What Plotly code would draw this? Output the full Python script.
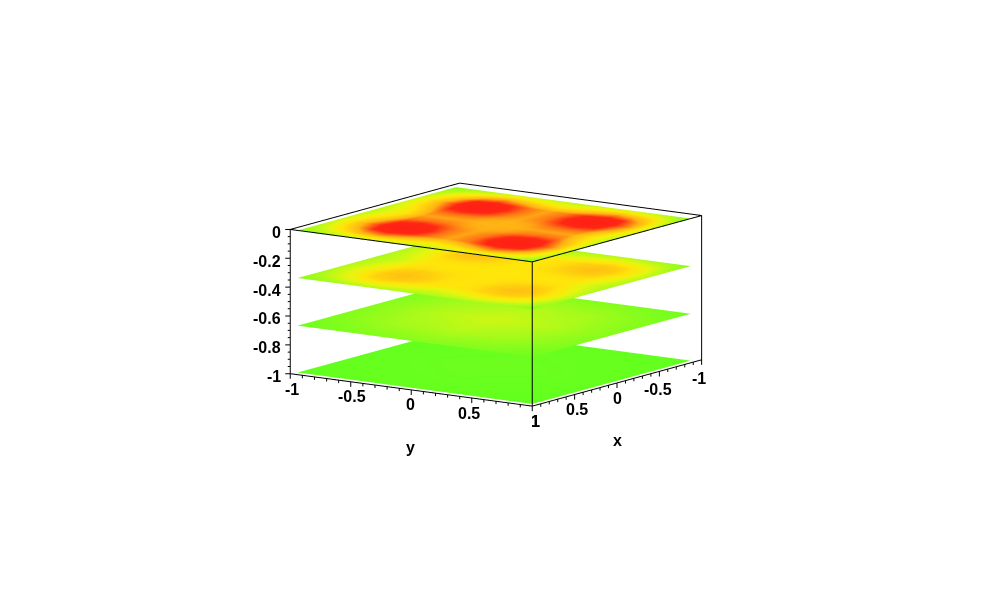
import plotly.graph_objects as go
import numpy as np

# grid positions of the four sheets
x_grid = [-0.87, -0.68, -0.53, -0.38, -0.23, -0.08, 0.07, 0.22, 0.37, 0.52, 0.67, 0.83, 1.0]
y_grid = [-0.94, -0.69, -0.54, -0.39, -0.24, -0.08, 0.07, 0.23, 0.38, 0.53, 0.68, 0.84, 1.0]
x_coarse = [-0.87, -0.4, 0.07, 0.53, 1.0]
y_coarse = [-0.94, -0.45, 0.03, 0.52, 1.0]

levels = [0.0, -0.33, -0.66, -0.985]

# colour values read from each sheet (0 green .. 0.5 yellow .. 1 red)
sheet_1 = [
    [.15, .24, .28, .32, .32, .30, .28, .30, .32, .32, .28, .24, .15],
    [.24, .50, .66, .74, .66, .56, .50, .56, .66, .74, .66, .50, .24],
    [.28, .66, .90, .96, .90, .78, .72, .78, .90, .96, .90, .66, .28],
    [.32, .74, .96, 1.0, .96, .80, .72, .80, .96, 1.0, .96, .74, .32],
    [.32, .66, .90, .96, .90, .78, .72, .78, .90, .96, .90, .66, .32],
    [.30, .56, .78, .80, .78, .72, .70, .72, .78, .80, .78, .56, .30],
    [.28, .50, .72, .72, .72, .70, .70, .70, .72, .72, .72, .50, .28],
    [.30, .56, .78, .80, .78, .72, .70, .72, .78, .80, .78, .56, .30],
    [.32, .66, .90, .96, .90, .78, .72, .78, .90, .96, .90, .66, .32],
    [.32, .74, .96, 1.0, .96, .80, .72, .80, .96, 1.0, .96, .74, .32],
    [.28, .66, .90, .96, .90, .78, .72, .78, .90, .96, .90, .66, .28],
    [.24, .50, .66, .74, .66, .56, .50, .56, .66, .74, .66, .50, .24],
    [.15, .24, .28, .32, .32, .30, .28, .30, .32, .32, .28, .24, .15],
]
sheet_2 = [
    [.12, .20, .24, .26, .26, .25, .24, .25, .26, .26, .24, .20, .12],
    [.20, .36, .44, .48, .44, .40, .36, .40, .44, .48, .44, .36, .20],
    [.24, .44, .58, .62, .58, .52, .50, .52, .58, .62, .58, .44, .24],
    [.26, .48, .62, .66, .62, .53, .50, .53, .62, .66, .62, .48, .26],
    [.26, .44, .58, .62, .58, .52, .50, .52, .58, .62, .58, .44, .26],
    [.25, .40, .52, .53, .52, .51, .50, .51, .52, .53, .52, .40, .25],
    [.24, .36, .50, .50, .50, .50, .50, .50, .50, .50, .50, .36, .24],
    [.25, .40, .52, .53, .52, .51, .50, .51, .52, .53, .52, .40, .25],
    [.26, .44, .58, .62, .58, .52, .50, .52, .58, .62, .58, .44, .26],
    [.26, .48, .62, .66, .62, .53, .50, .53, .62, .66, .62, .48, .26],
    [.24, .44, .58, .62, .58, .52, .50, .52, .58, .62, .58, .44, .24],
    [.20, .36, .44, .48, .44, .40, .36, .40, .44, .48, .44, .36, .20],
    [.12, .20, .24, .26, .26, .25, .24, .25, .26, .26, .24, .20, .12],
]
sheet_3 = [
    [.05, .10, .12, .10, .05],
    [.10, .22, .27, .22, .10],
    [.12, .27, .34, .27, .12],
    [.10, .22, .27, .22, .10],
    [.05, .10, .12, .10, .05],
]
sheet_4 = [
    [.00, .01, .01, .01, .00],
    [.01, .02, .03, .02, .01],
    [.01, .03, .04, .03, .01],
    [.01, .02, .03, .02, .01],
    [.00, .01, .01, .01, .00],
]

xy_ticks = [-1, -0.5, 0, 0.5, 1]
xy_labels = ["-1", "-0.5", "0", "0.5", "1"]
z_ticks = [0, -0.2, -0.4, -0.6, -0.8, -1]
z_labels = ["0", "-0.2", "-0.4", "-0.6", "-0.8", "-1"]
xy_minor = [-0.9, -0.8, -0.7, -0.6, -0.4, -0.3, -0.2, -0.1, 0.1, 0.2, 0.3, 0.4, 0.6, 0.7, 0.8, 0.9]
z_minor = [-0.05, -0.1, -0.15, -0.25, -0.3, -0.35, -0.45, -0.5, -0.55, -0.65, -0.7, -0.75, -0.85, -0.9, -0.95]

colors = [
    [0.0, "#62ff1e"],
    [0.25, "#aefa1a"],
    [0.4, "#e6f50f"],
    [0.5, "#ffe60a"],
    [0.7, "#ffb414"],
    [0.9, "#ff2814"],
    [1.0, "#ff2014"],
]

fig = go.Figure()

sheets = [
    (x_grid, y_grid, sheet_1, levels[0]),
    (x_grid, y_grid, sheet_2, levels[1]),
    (x_coarse, y_coarse, sheet_3, levels[2]),
    (x_coarse, y_coarse, sheet_4, levels[3]),
]
for xs, ys, vals, lev in sheets:
    vals = np.array(vals)
    fig.add_surface(
        x=xs, y=ys, z=np.full(vals.shape, lev), surfacecolor=vals,
        colorscale=colors, cmin=0, cmax=1, showscale=False, hoverinfo="skip",
        lighting=dict(ambient=1, diffuse=0, specular=0, fresnel=0, roughness=1),
    )

# box frame: all edges but the three hidden ones at the back
segs = [
    ((1, -1, 0), (1, 1, 0)), ((1, 1, 0), (-1, 1, 0)), ((-1, 1, 0), (-1, -1, 0)), ((-1, -1, 0), (1, -1, 0)),
    ((1, -1, 0), (1, -1, -1)), ((1, 1, 0), (1, 1, -1)), ((-1, 1, 0), (-1, 1, -1)),
    ((1, -1, -1), (1, 1, -1)), ((1, 1, -1), (-1, 1, -1)),
]
# tick marks, 3d has no minor ticks so they go in with the frame
for t in xy_ticks:
    segs.append(((1, t, -1), (1, t, -1.035)))
    segs.append(((t, 1, -1), (t, 1, -1.035)))
for t in xy_minor:
    segs.append(((1, t, -1), (1, t, -1.02)))
    segs.append(((t, 1, -1), (t, 1, -1.02)))
for t in z_ticks:
    segs.append(((1, -1, t), (1.019, -1.028, t)))
for t in z_minor:
    segs.append(((1, -1, t), (1.01, -1.014, t)))

frame_x, frame_y, frame_z = [], [], []
for a, b in segs:
    frame_x += [a[0], b[0], None]
    frame_y += [a[1], b[1], None]
    frame_z += [a[2], b[2], None]
fig.add_scatter3d(x=frame_x, y=frame_y, z=frame_z, mode="lines",
                  line=dict(color="black", width=2), hoverinfo="skip", showlegend=False)

# tick labels as annotations, the native ones sit on top of the ticks
label_font = dict(family="Liberation Sans", size=16, color="black", weight="bold")
notes = []
y_nudge = [2, 1, -1, -3, 3]
y_drop = [-16, -15, -15, -15, -15]
x_nudge = [-3, -1, 0, 2, 3]
x_drop = [-19, -18, -16, -15, -15]
for t, lab, n, d in zip(xy_ticks, xy_labels, y_nudge, y_drop):
    notes.append(dict(x=1, y=t, z=-1, text=lab, showarrow=False, font=label_font, xshift=n, yshift=d))
for t, lab, n, d in zip(xy_ticks, xy_labels, x_nudge, x_drop):
    notes.append(dict(x=t, y=1, z=-1, text=lab, showarrow=False, font=label_font, xshift=n, yshift=d))
for t, lab in zip(z_ticks, z_labels):
    notes.append(dict(x=1, y=-1, z=t, text=lab, showarrow=False, font=label_font,
                      xanchor="right", xshift=-7, yshift=-3))
notes.append(dict(x=1, y=0, z=-1, text="y", showarrow=False, font=label_font, xshift=-1, yshift=-58))
notes.append(dict(x=0, y=1, z=-1, text="x", showarrow=False, font=label_font, yshift=-58))

axis = dict(showbackground=False, showgrid=False, zeroline=False, showline=False,
            showspikes=False, ticks="", showticklabels=False, title=dict(text=""))

fig.update_layout(
    width=992, height=591,
    margin=dict(l=0, r=16, t=0, b=12),
    paper_bgcolor="white",
    showlegend=False,
    scene=dict(
        xaxis=dict(axis, range=[-1.03, 1.03]),
        yaxis=dict(axis, range=[-1.03, 1.03]),
        zaxis=dict(axis, range=[-1.04, 0]),
        annotations=notes,
        aspectmode="manual",
        aspectratio=dict(x=1.051, y=1.051, z=0.528),
        camera=dict(
            projection=dict(type="orthographic"),
            eye=dict(x=1.193, y=0.835, z=0.284),
            up=dict(x=0, y=0, z=1),
            center=dict(x=0, y=0, z=0),
        ),
    ),
)
fig.write_html("out.html")
